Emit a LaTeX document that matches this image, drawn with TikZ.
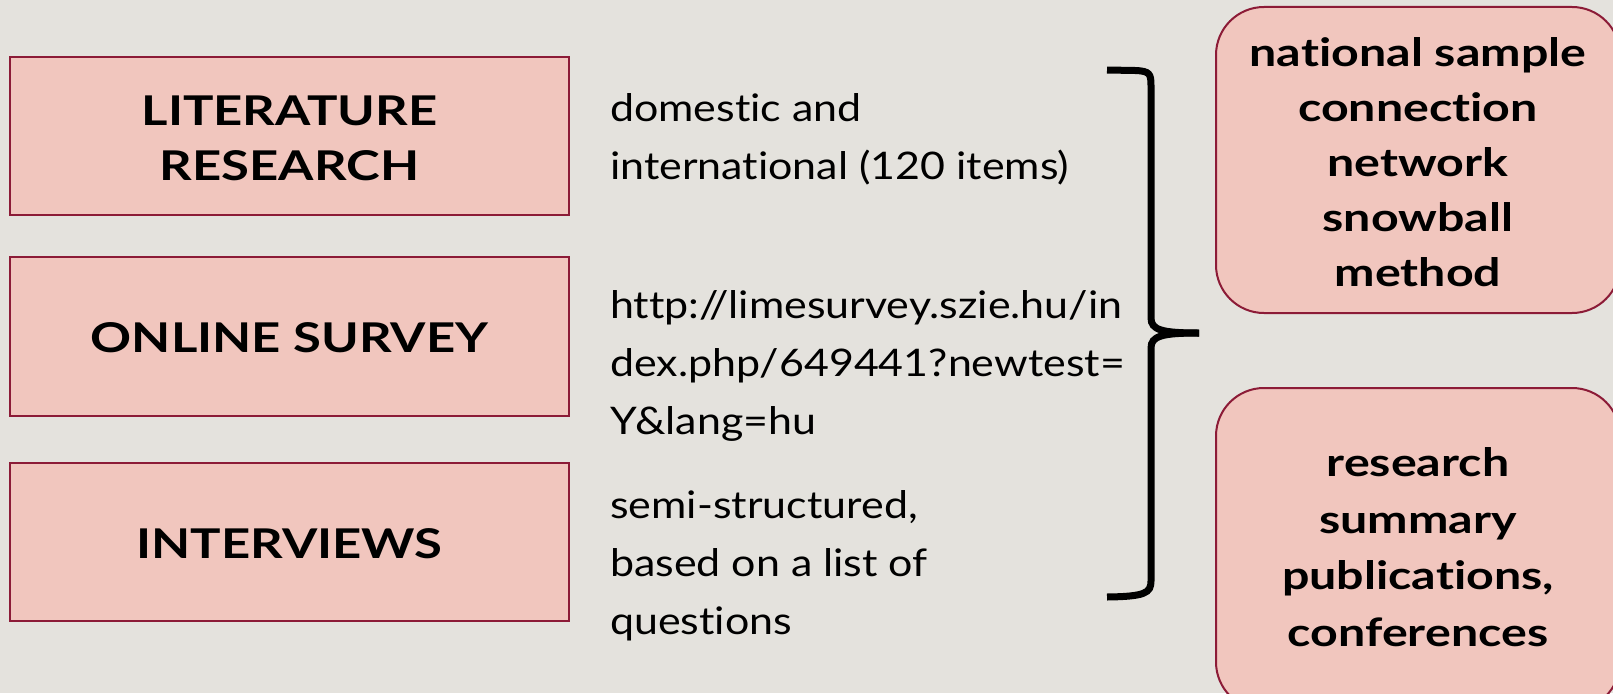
\documentclass[tikz,border=0pt]{standalone}
\usepackage{fontspec}
\setmainfont{Lato}[Ligatures={NoCommon},FakeStretch=1.13,BoldFeatures={FakeStretch=1.24}]
\definecolor{bg}{HTML}{E4E2DD}
\definecolor{boxfill}{HTML}{F1C6BE}
\definecolor{boxline}{HTML}{8C1B37}
\begin{document}
\begin{tikzpicture}[x=1pt,y=-1pt,
  methodbox/.style={draw=boxline,fill=boxfill,line width=2pt,inner sep=0pt},
  roundbox/.style={draw=boxline,fill=boxfill,line width=2pt,rounded corners=48pt,inner sep=0pt},
  boxtext/.style={font=\fontsize{41}{55}\selectfont\bfseries,align=center,inner sep=0pt},
  righttext/.style={font=\fontsize{39}{55}\selectfont\bfseries,align=center,inner sep=0pt},
  righttextb/.style={font=\fontsize{39}{56.5}\selectfont\bfseries,align=center,inner sep=0pt},
  midtext/.style={font=\fontsize{38}{58}\selectfont,align=left,inner sep=0pt,anchor=west}]
\useasboundingbox (0,0) rectangle (1613,693);
\fill[bg] (0,0) rectangle (1613,693);
% left boxes
\draw[methodbox] (10,57) rectangle (569,215);
\draw[methodbox] (10,257) rectangle (569,416);
\draw[methodbox] (10,463) rectangle (569,621);
\node[boxtext] (lit) at (289.5,138) {LITERATURE\\RESEARCH};
\node[boxtext] (onl) at (289.5,338) {ONLINE SURVEY};
\node[boxtext] (int) at (289.5,544) {INTERVIEWS};
% middle texts
\node[midtext] (dom) at (610,139) {domestic and\\international (120 items)};
\node[midtext] (url) at (610,366) {http://limesurvey.szie.hu/in\\dex.php/649441?newtest=\\Y\&lang=hu};
\node[midtext] (semi) at (610,566) {semi-structured,\\based on a list of\\questions};
% bracket
\coordinate (bt) at (1107,70);
\coordinate (tip) at (1199,333);
\coordinate (bb) at (1107,597);
\draw[line width=7pt] (bt) -- (1135,70.5) .. controls (1150,71) and (1151,74) .. (1151,86)
  -- (1151,318) .. controls (1151,330) and (1162,333) .. (tip);
\draw[line width=7pt] (tip) .. controls (1162,333) and (1151,336) .. (1151,348)
  -- (1151,581) .. controls (1151,593) and (1145,596.5) .. (bb);
% right boxes
\draw[roundbox] (1216,7) rectangle (1620,313);
\draw[roundbox] (1216,388) rectangle (1620,710);
\node[righttext] (nat) at (1418,162) {national sample\\connection\\network\\snowball\\method};
\node[righttextb] (res) at (1418,547) {research\\summary\\publications,\\conferences};
\end{tikzpicture}
\end{document}
